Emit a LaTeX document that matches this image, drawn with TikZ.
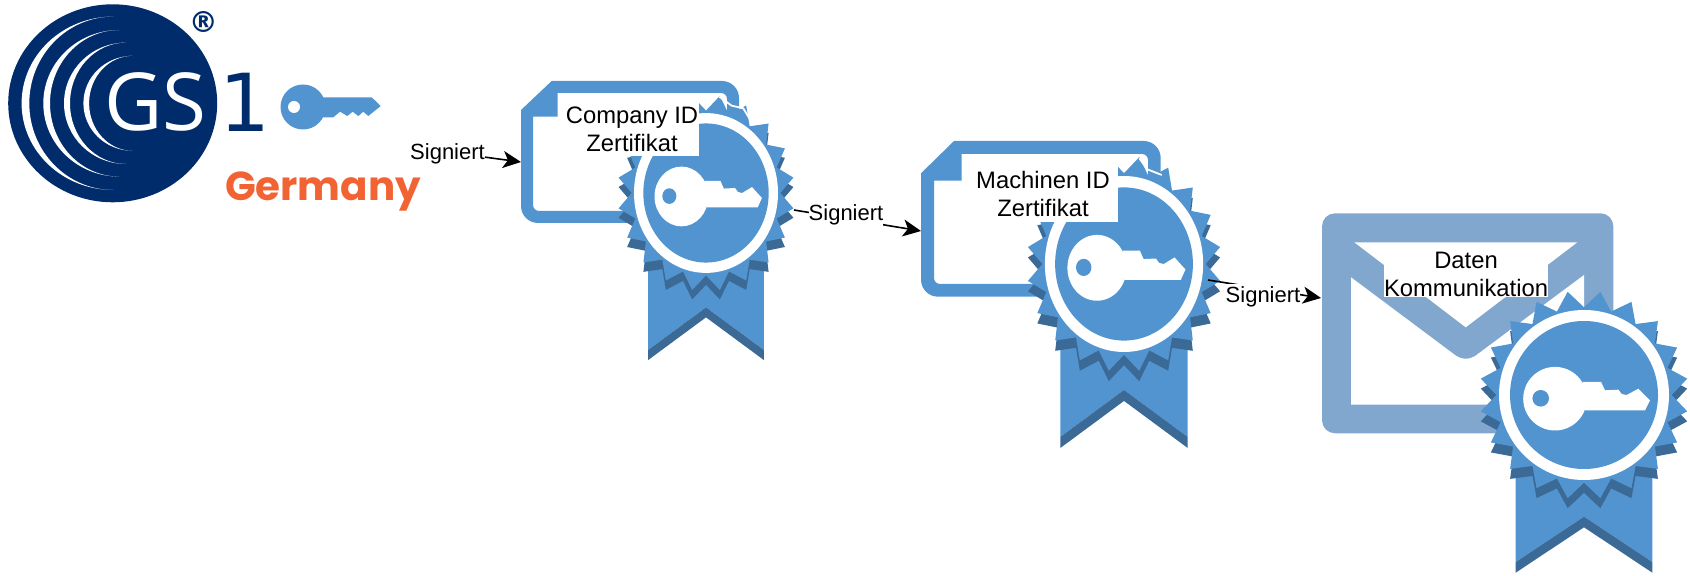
\documentclass[tikz,border=0pt]{standalone}
\usepackage{fontspec}
\setmainfont{Liberation Sans}
\newfontfamily\logofont{Open Sans}
\newfontfamily\onefont{DejaVu Sans}
\newfontfamily\germanyfont{Poppins}
\usetikzlibrary{arrows.meta}
\definecolor{certblue}{HTML}{5294CF}
\definecolor{certdark}{HTML}{3B6A96}
\definecolor{mailblue}{HTML}{82A7CF}
\definecolor{gsblue}{HTML}{002C6C}
\definecolor{gsorange}{HTML}{F26334}

\begin{document}
\begin{tikzpicture}[
    x=0.5pt, y=-0.5pt,
    certlabel/.style={align=center, inner sep=0pt, font=\fontsize{11.9}{13.85}\selectfont},
    siglabel/.style={fill=white, inner sep=0pt, minimum height=12.5pt, font=\fontsize{11}{13}\selectfont},
    signedge/.style={thick, -{Stealth[length=9pt,width=8.5pt,inset=2.4pt]}},
    docframe/.style={fill=certblue, even odd rule},
    glint/.style={white, line width=0.9pt},
    rosette/.pic={
      % ribbon
      \fill[certblue] (-68.3,0) -- (68.3,0) -- (68.3,167) -- (0,121.7) -- (-68.3,167) -- cycle;
      \fill[certdark] (-68.3,167) -- (0,121.7) -- (68.3,167) -- (68.3,177.7) -- (0,132.3) -- (-68.3,177.7) -- cycle;
      % star, its shadow first
      \begin{scope}[shift={(0,10)}]
        \fill[certdark] (9:104.5) \foreach \i in {1,...,19} {-- (\i*18:87.7) -- (9+\i*18:104.5)} -- (0:87.7) -- cycle;
      \end{scope}
      \fill[certblue] (9:104.5) \foreach \i in {1,...,19} {-- (\i*18:87.7) -- (9+\i*18:104.5)} -- (0:87.7) -- cycle;
      % ring
      \fill[white] (0,0) circle [radius=85];
      \fill[certblue] (0,0) circle [radius=74];
      % key
      \fill[white] (-29,3.7) circle [radius=31.8];
      \fill[white] (-1.3,-13) -- (17,-13) -- (21,-4.7) -- (34.3,-5.3) -- (37.7,-1) -- (42.7,0) -- (54.3,-6.3) -- (66,5.3) -- (61,15.3) -- (1,15.3) -- cycle;
      \fill[certblue] (-43.3,3.3) circle [radius=8.3];
    }
  ]
  \useasboundingbox (0,0) rectangle (1690,576);

  % Logo.
  \fill[gsblue] (112.7,103.3) ellipse [x radius=104.5, y radius=99];
  \foreach \cx/\ra/\rb/\th in {113.3/91.7/86.7/7.7, 119.3/76/73.3/6.7, 126/62/60.7/6, 132.7/49.3/47.5/5.7} {
    \fill[white] (\cx,103.3+\rb) arc [start angle=90, end angle=270, x radius=\ra, y radius=\rb] arc [start angle=270, end angle=90, x radius=\ra-\th, y radius=\rb];
  }
  \node[text=white, inner sep=0pt, font=\logofont\fontsize{40}{40}\selectfont] (gstext) at (155.5,102) {GS};
  \node[text=gsblue, inner sep=0pt, font=\onefont\fontsize{40}{40}\selectfont] (gsone) at (245,102) {1};
  \node[text=gsblue, inner sep=0pt, font=\onefont\bfseries\fontsize{14.5}{15}\selectfont] (gsreg) at (203.3,21.7) {®};
  \node[text=gsorange, inner sep=0pt, font=\germanyfont\bfseries\fontsize{20.2}{21}\selectfont] (germany) at (323,192) {Germany};

  % Key beside the logo.
  \fill[certblue] (303,107) circle [radius=22.5];
  \fill[certblue] (322,97.3) -- (371.7,97.3) -- (380.7,106) -- (368.3,116) -- (363.3,111.7) -- (358.3,116) -- (352.7,111.7) -- (347.3,116) -- (340,111.7) -- (333.3,117.3) -- (322,117.3) -- cycle;
  \fill[white] (294,107) circle [radius=6];

  % Company certificate.
  \fill[docframe] (521,110) -- (551.7,81) [rounded corners=8.5pt] -- (739,81) -- (739,223) -- (521,223) [sharp corners] -- (521,110) -- cycle
    (533,116.7) [rounded corners=3pt] -- (533,211) -- (727,211) -- (727,93) [sharp corners] -- (557.7,93) -- (557.7,116.7) -- cycle;
  \pic[xscale=.847, yscale=.94] at (706,193) {rosette};
  \draw[glint] (719.3,96.7) -- (731.7,105.7) -- (743.3,108.3) -- (749.3,118.3);
  \fill[white] (557.7,93) rectangle (699,156);
  \node[certlabel] (companycert) at (632,129) {Company ID\\Zertifikat};

  % Machine certificate.
  \fill[docframe] (921,173.3) -- (954,141) [rounded corners=8.5pt] -- (1160.7,141) -- (1160.7,296.7) -- (921,296.7) [sharp corners] -- (921,173.3) -- cycle
    (934,180.7) [rounded corners=3pt] -- (934,284) -- (1148,284) -- (1148,154) [sharp corners] -- (961.7,154) -- (961.7,180.7) -- cycle;
  \pic[xscale=.931, yscale=1.035] at (1124,264) {rosette};
  \draw[glint] (1139.3,158.3) -- (1147.3,169.3) -- (1161.7,175);
  \fill[white] (961.7,154) rectangle (1118,221.7);
  \node[certlabel] (machinecert) at (1043,194) {Machinen ID\\Zertifikat};

  % Mail.
  \fill[mailblue, rounded corners=6.5pt] (1322,213.3) rectangle (1613.3,433.3);
  \fill[white] (1354.3,242.3) -- (1577.3,242.3) -- (1465.7,327.3) -- cycle;
  \fill[white] (1351,277.3) [rounded corners=6pt] -- (1465.7,363) [sharp corners] -- (1584,275) -- (1584,404.7) -- (1351,404.7) -- cycle;
  \pic at (1584,395) {rosette};
  \node[certlabel, fill=white] (mailtext) at (1466,274.5) {Daten\\Kommunikation};

  % Signature arrows.
  \coordinate (logoedge) at (420,148.4);
  \coordinate (companyin) at (521,162);
  \coordinate (companyout) at (794,210);
  \coordinate (machinein) at (921,231);
  \coordinate (machineout) at (1208,280);
  \coordinate (mailin) at (1321,298);
  \draw[signedge] (logoedge) -- (companyin);
  \draw[signedge] (companyout) -- (machinein);
  \draw[signedge] (machineout) -- (mailin);
  \node[siglabel] (sign1) at (447.5,154) {Signiert};
  \node[siglabel] (sign2) at (846,215) {Signiert};
  \node[siglabel] (sign3) at (1263,297) {Signiert};
\end{tikzpicture}
\end{document}
